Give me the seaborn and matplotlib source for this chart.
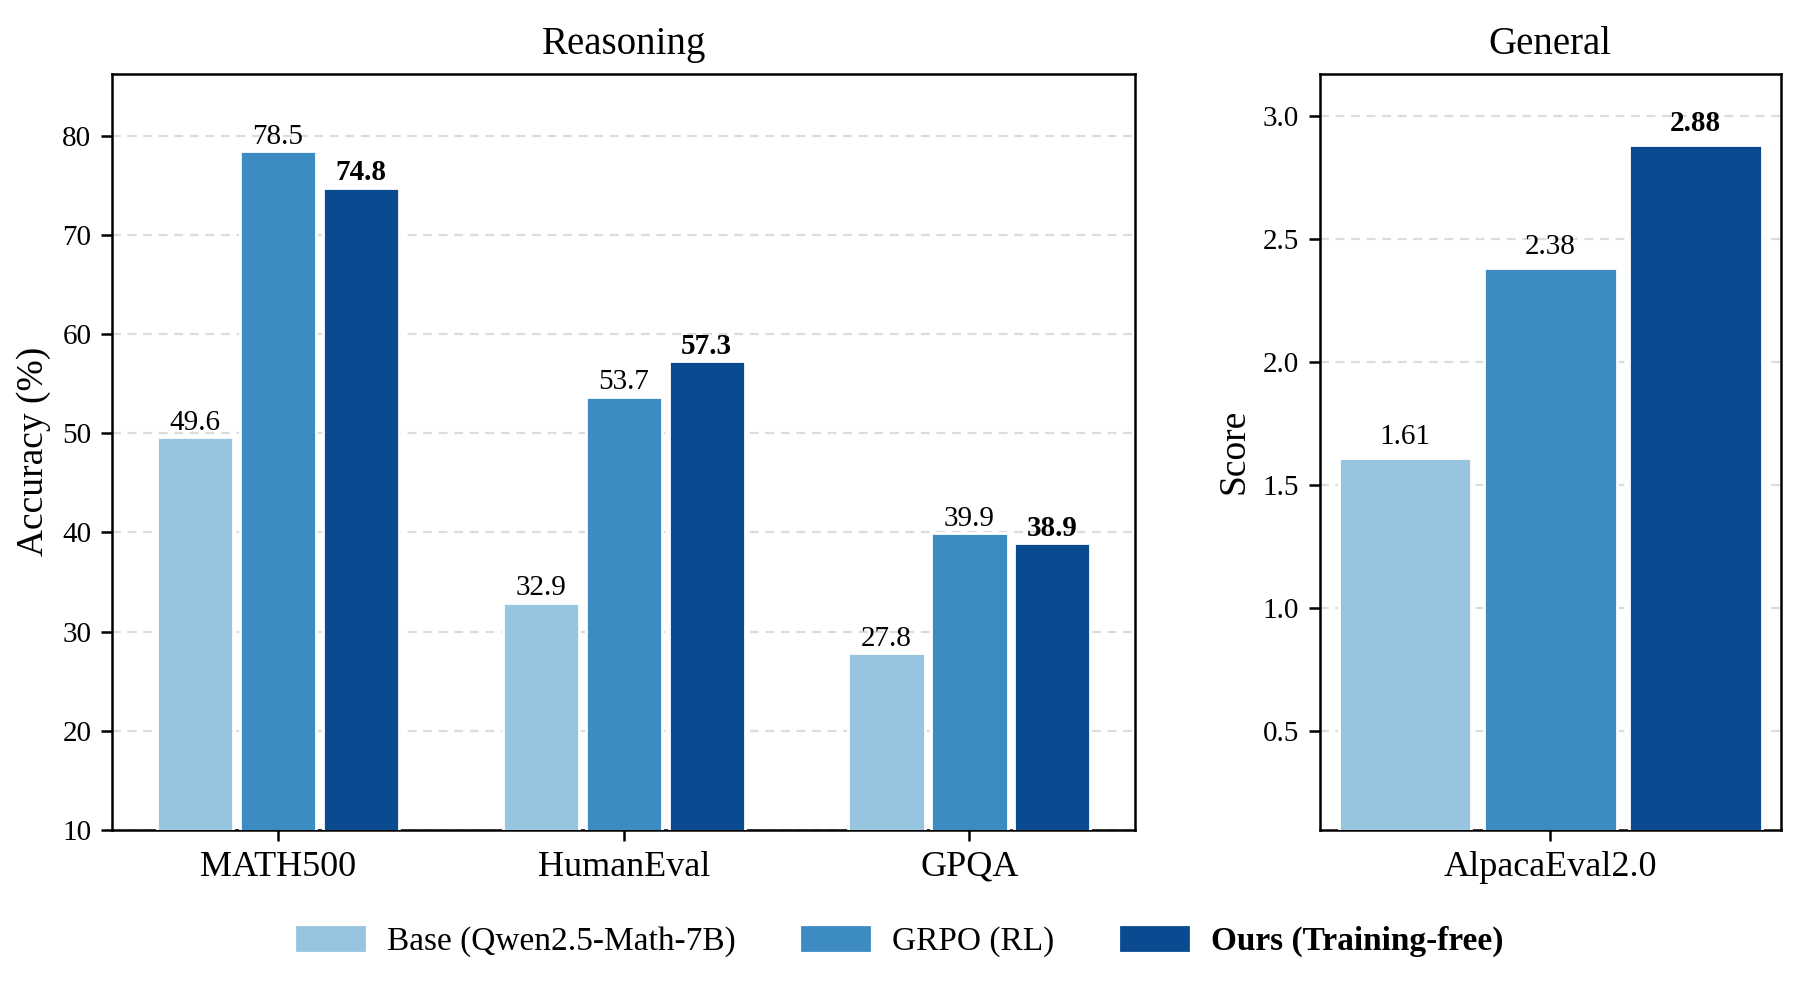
import pandas as pd
import matplotlib.pyplot as plt
import seaborn as sns

# 데이터
methods = ['Base (Qwen2.5-Math-7B)', 'GRPO (RL)', 'Ours (Training-free)']
colors = ['#97c4df', '#3d8bc3', '#0a4a90']

reason_tasks = ['MATH500', 'HumanEval', 'GPQA']
base_acc = [49.6, 32.9, 27.8]
grpo_acc = [78.5, 53.7, 39.9]
ours_acc = [74.8, 57.3, 38.9]

general_tasks = ['AlpacaEval2.0']
base_score = [1.61]
grpo_score = [2.38]
ours_score = [2.88]

reason_df = pd.DataFrame({
    'Task': reason_tasks * 3,
    'Method': [m for m in methods for _ in reason_tasks],
    'Value': base_acc + grpo_acc + ours_acc,
})
general_df = pd.DataFrame({
    'Task': general_tasks * 3,
    'Method': [m for m in methods for _ in general_tasks],
    'Value': base_score + grpo_score + ours_score,
})

sns.set_style('ticks')
plt.rcParams['font.family'] = ['Liberation Serif', 'DejaVu Serif']
plt.rcParams['text.color'] = 'black'
plt.rcParams['axes.labelcolor'] = 'black'
plt.rcParams['xtick.color'] = 'black'
plt.rcParams['ytick.color'] = 'black'

fig = plt.figure(figsize=(9.04, 4.91), dpi=200)
ax1 = fig.add_axes([0.062, 0.155, 0.566, 0.77])
ax2 = fig.add_axes([0.730, 0.155, 0.255, 0.77])


def draw(ax, df, width, gap, fmt, pad):
    sns.barplot(data=df, x='Task', y='Value', hue='Method', palette=colors,
                width=width, gap=gap, saturation=1, ax=ax, legend=False, zorder=3)
    for i, cont in enumerate(ax.containers):
        texts = ax.bar_label(cont, fmt=fmt, padding=pad, fontsize=10.5, color='black')
        if i == 2:
            for t in texts:
                t.set_fontweight('bold')
    ax.yaxis.grid(True, linestyle=(0, (4, 3)), color='#dcdcdc', linewidth=0.8, zorder=0)
    ax.set_axisbelow(True)
    for s in ax.spines.values():
        s.set_visible(True)
        s.set_color('black')
        s.set_linewidth(0.9)
    ax.tick_params(axis='y', labelsize=10.5, length=4, width=0.9, color='black')
    ax.tick_params(axis='x', labelsize=13, length=4, width=0.9, color='black')
    ax.set_xlabel('')


# 추론 벤치마크
draw(ax1, reason_df, 0.72, 0.083, '%.1f', 0.5)
ax1.set_ylim(10, 86.3)
ax1.set_yticks([10, 20, 30, 40, 50, 60, 70, 80])
ax1.set_xlim(-0.48, 2.48)
ax1.set_ylabel('Accuracy (%)', fontsize=13.5)
ax1.set_title('Reasoning', fontsize=14, pad=7)

# 일반 벤치마크
draw(ax2, general_df, 0.945, 0.087, '%.2f', 3)
ax2.set_ylim(0.1, 3.17)
ax2.set_yticks([0.5, 1.0, 1.5, 2.0, 2.5, 3.0])
ax2.set_ylabel('Score', fontsize=13.5)
ax2.set_title('General', fontsize=14, pad=7)

handles = [plt.Rectangle((0, 0), 1, 1, color=c) for c in colors]
leg = fig.legend(handles, methods, loc='center', bbox_to_anchor=(0.498, 0.041), ncol=3,
                 frameon=False, fontsize=12, handlelength=2.0, handleheight=0.7,
                 handletextpad=0.7, columnspacing=2.0)
leg.get_texts()[2].set_fontweight('bold')

fig.savefig('out.png', dpi=200)
